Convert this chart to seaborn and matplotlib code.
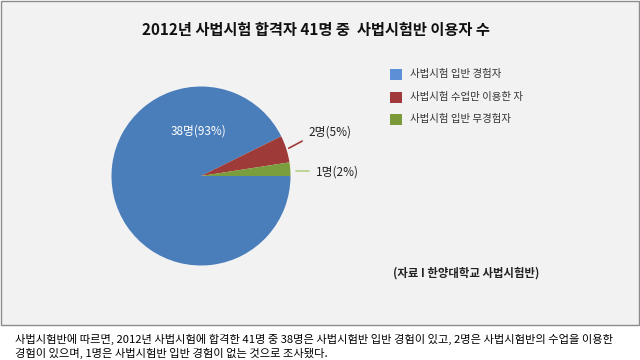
import matplotlib
matplotlib.use("Agg")
import matplotlib.pyplot as plt
from matplotlib.patches import Rectangle
import seaborn as sns

sns.set_style("white")
plt.rcParams['font.family'] = ['Noto Sans CJK KR', 'DejaVu Sans']

categories = ["사법시험 입반 경험자", "사법시험 수업만 이용한 자", "사법시험 입반 무경험자"]
values = [38, 2, 1]
colors = ["#4A7EBB", "#9E3A38", "#7A9E3E"]
legend_colors = ["#5B8FD6", "#A0393A", "#7A9A3A"]
title = "2012년 사법시험 합격자 41명 중  사법시험반 이용자 수"
source = "(자료 I 한양대학교 사법시험반)"
caption = ["사법시험반에 따르면, 2012년 사법시험에 합격한 41명 중 38명은 사법시험반 입반 경험이 있고, 2명은 사법시험반의 수업을 이용한",
           "경험이 있으며, 1명은 사법시험반 입반 경험이 없는 것으로 조사됐다."]

W, H = 640, 360
fig = plt.figure(figsize=(6.4, 3.6), dpi=100, facecolor="white")

# gray panel as background axes
bg = fig.add_axes([0, 0, 1, 1], zorder=0)
bg.set_xlim(0, W)
bg.set_ylim(H, 0)
bg.axis("off")
bg.add_patch(Rectangle((0.5, 0.5), 638.5, 324.5, facecolor="#f2f2f2", edgecolor="#8c8c8c", linewidth=1.0))

fig.text(316 / W, 1 - 30 / H, title, ha="center", va="center", fontsize=11, fontweight="bold", color="#111111")

# pie
r = 89.5
cx, cy = 201, 176
ax = fig.add_axes([(cx - r) / W, (H - cy - r) / H, 2 * r / W, 2 * r / H], zorder=5)
ax.set_facecolor("none")
wedges, _ = ax.pie(values, colors=colors, startangle=0, counterclock=False, radius=1,
                   wedgeprops=dict(linewidth=0))
ax.set_xlim(-1, 1)
ax.set_ylim(-1, 1)
ax.set_aspect("equal")
ax.axis("off")

total = sum(values)
labels = [f"{v}명({round(v / total * 100)}%)" for v in values]
ax.text(-0.022, 0.50, labels[0], ha="center", va="center", fontsize=8.5, color="white")
ax.plot([0.98, 1.13], [0.31, 0.39], color=colors[1], lw=1.2, clip_on=False)
ax.text(1.44, 0.49, labels[1], ha="center", va="center", fontsize=8.5, color="#222222", clip_on=False)
ax.plot([1.06, 1.21], [0.056, 0.056], color="#b5cf8a", lw=1.2, clip_on=False)
ax.text(1.53, 0.045, labels[2], ha="center", va="center", fontsize=8.5, color="#222222", clip_on=False)

# legend
for i, (lab, c) in enumerate(zip(categories, legend_colors)):
    y = [74, 97, 119][i]
    bg.add_patch(Rectangle((390, y - 5.5), 12, 11, facecolor=c, edgecolor="none"))
    fig.text(410 / W, 1 - y / H, lab, ha="left", va="center", fontsize=7.5, color="#333333")

fig.text(393 / W, 1 - 273 / H, source, ha="left", va="center", fontsize=8.2, fontweight="bold", color="#222222")

fig.text(15 / W, 1 - 339 / H, caption[0], ha="left", va="center", fontsize=8.1, color="#000000")
fig.text(15 / W, 1 - 353 / H, caption[1], ha="left", va="center", fontsize=8.1, color="#000000")

fig.savefig("out.png", dpi=100, facecolor="white")
